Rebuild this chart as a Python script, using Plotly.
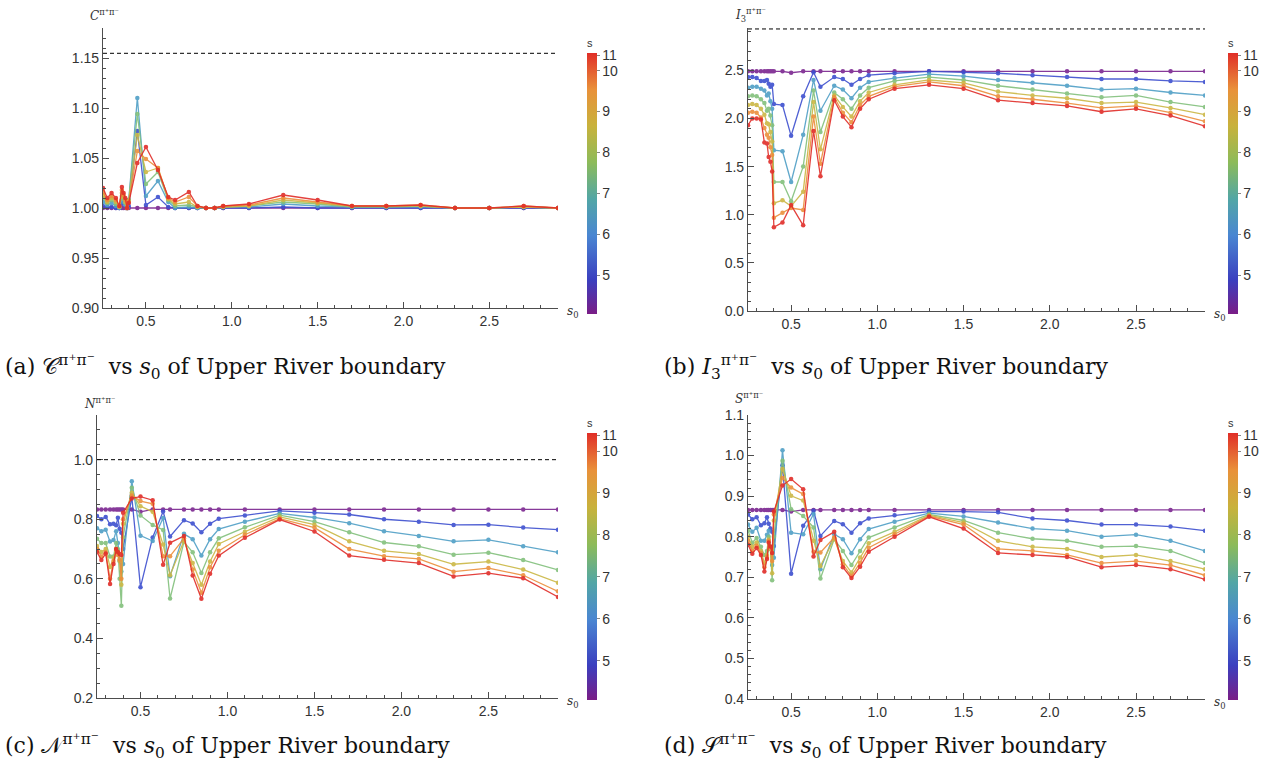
import plotly.graph_objects as go

# ---------------- data ----------------
S0 = [0.25, 0.275, 0.30, 0.325, 0.345, 0.36, 0.37, 0.38, 0.39, 0.40,
      0.45, 0.50, 0.57, 0.63, 0.67, 0.75, 0.80, 0.85, 0.90, 0.95,
      1.10, 1.30, 1.50, 1.70, 1.90, 2.10, 2.30, 2.50, 2.70, 2.90]

S_VALUES = [4.1, 5, 6.2, 7.6, 8.9, 9.9, 11]
SERIES_COLORS = ["#7b2590", "#3d4fcf", "#4f9fc6", "#82c07c", "#cbb845", "#ec8e3b", "#e12d29"]

C_VALS = {
    "purple": [1.0] * 30,
    "blue":   [1.002, 1.001, 1.001, 1.000, 1.000, 1.004, 1.005, 1.005, 1.000, 1.002, 1.077, 1.003, 1.011, 1.001, 1.000, 1.000, 1.000, 1.000, 1.000, 1.000, 1.000, 1.001, 1.000, 1.000, 1.000, 1.000, 1.000, 1.000, 1.000, 1.000],
    "cyan":   [1.006, 1.003, 1.005, 1.002, 1.000, 1.008, 1.006, 1.003, 1.000, 1.008, 1.110, 1.012, 1.027, 1.006, 1.000, 1.001, 1.000, 1.000, 1.000, 1.001, 1.001, 1.004, 1.002, 1.001, 1.001, 1.001, 1.000, 1.000, 1.001, 1.000],
    "green":  [1.010, 1.005, 1.008, 1.004, 1.001, 1.012, 1.009, 1.005, 1.000, 1.008, 1.094, 1.024, 1.036, 1.008, 1.002, 1.003, 1.001, 1.000, 1.000, 1.001, 1.002, 1.006, 1.004, 1.001, 1.001, 1.002, 1.000, 1.000, 1.001, 1.000],
    "yellow": [1.013, 1.006, 1.010, 1.006, 1.001, 1.015, 1.011, 1.006, 1.000, 1.007, 1.073, 1.036, 1.040, 1.009, 1.004, 1.006, 1.001, 1.000, 1.000, 1.001, 1.002, 1.008, 1.005, 1.002, 1.002, 1.002, 1.000, 1.000, 1.001, 1.000],
    "orange": [1.016, 1.008, 1.012, 1.008, 1.002, 1.018, 1.013, 1.008, 1.000, 1.006, 1.057, 1.049, 1.040, 1.010, 1.006, 1.011, 1.002, 1.000, 1.000, 1.002, 1.003, 1.010, 1.006, 1.002, 1.002, 1.003, 1.000, 1.000, 1.002, 1.000],
    "red":    [1.020, 1.010, 1.015, 1.010, 1.002, 1.021, 1.015, 1.010, 1.000, 1.005, 1.045, 1.061, 1.038, 1.011, 1.008, 1.016, 1.002, 1.000, 1.000, 1.002, 1.004, 1.013, 1.008, 1.002, 1.002, 1.003, 1.000, 1.000, 1.002, 1.000],
}

I3_VALS = {
    "purple": [2.49] * 11 + [2.475] + [2.49] * 18,
    "blue":   [2.43, 2.43, 2.42, 2.39, 2.39, 2.40, 2.36, 2.33, 2.35, 2.15, 2.14, 1.82, 2.23, 2.48, 2.33, 2.43, 2.41, 2.35, 2.41, 2.45, 2.47, 2.49, 2.48, 2.47, 2.45, 2.43, 2.41, 2.41, 2.39, 2.38],
    "cyan":   [2.32, 2.33, 2.33, 2.31, 2.29, 2.24, 2.26, 2.18, 2.10, 1.67, 1.66, 1.34, 1.83, 2.40, 2.08, 2.34, 2.30, 2.21, 2.32, 2.38, 2.42, 2.46, 2.44, 2.40, 2.37, 2.34, 2.30, 2.31, 2.27, 2.24],
    "green":  [2.23, 2.24, 2.23, 2.20, 2.16, 2.08, 2.10, 2.03, 1.93, 1.34, 1.34, 1.14, 1.50, 2.29, 1.86, 2.27, 2.20, 2.10, 2.24, 2.32, 2.39, 2.43, 2.40, 2.34, 2.30, 2.26, 2.22, 2.24, 2.17, 2.12],
    "yellow": [2.14, 2.15, 2.14, 2.10, 2.04, 1.95, 1.94, 1.86, 1.76, 1.12, 1.15, 1.09, 1.24, 2.17, 1.68, 2.24, 2.12, 2.02, 2.18, 2.27, 2.35, 2.40, 2.37, 2.28, 2.24, 2.21, 2.16, 2.17, 2.11, 2.04],
    "orange": [2.06, 2.07, 2.06, 2.01, 1.90, 1.83, 1.80, 1.70, 1.62, 0.97, 1.02, 1.07, 1.05, 2.02, 1.53, 2.22, 2.06, 1.96, 2.14, 2.23, 2.33, 2.38, 2.34, 2.23, 2.20, 2.16, 2.11, 2.13, 2.06, 1.97],
    "red":    [1.93, 2.00, 2.00, 1.99, 1.75, 1.74, 1.60, 1.55, 1.45, 0.87, 0.92, 1.10, 0.89, 1.87, 1.40, 2.19, 2.02, 1.91, 2.10, 2.20, 2.31, 2.35, 2.31, 2.19, 2.16, 2.13, 2.07, 2.10, 2.03, 1.92],
}

N_VALS = {
    "purple": [0.833] * 11 + [0.825] + [0.833] * 18,
    "blue":   [0.811, 0.800, 0.808, 0.783, 0.785, 0.780, 0.805, 0.768, 0.755, 0.700, 0.875, 0.572, 0.739, 0.826, 0.742, 0.797, 0.786, 0.756, 0.785, 0.802, 0.813, 0.828, 0.822, 0.816, 0.800, 0.792, 0.781, 0.782, 0.772, 0.765],
    "cyan":   [0.770, 0.760, 0.765, 0.725, 0.730, 0.760, 0.720, 0.660, 0.625, 0.650, 0.928, 0.745, 0.727, 0.804, 0.609, 0.751, 0.733, 0.678, 0.733, 0.767, 0.792, 0.820, 0.806, 0.787, 0.760, 0.744, 0.726, 0.731, 0.709, 0.689],
    "green":  [0.735, 0.720, 0.720, 0.675, 0.675, 0.720, 0.700, 0.600, 0.510, 0.740, 0.906, 0.813, 0.781, 0.764, 0.534, 0.724, 0.689, 0.620, 0.689, 0.736, 0.773, 0.814, 0.792, 0.756, 0.722, 0.709, 0.681, 0.688, 0.663, 0.630],
    "yellow": [0.710, 0.690, 0.700, 0.640, 0.670, 0.700, 0.690, 0.660, 0.580, 0.785, 0.889, 0.844, 0.825, 0.715, 0.612, 0.728, 0.653, 0.580, 0.658, 0.717, 0.758, 0.808, 0.782, 0.726, 0.694, 0.683, 0.649, 0.658, 0.631, 0.587],
    "orange": [0.700, 0.675, 0.690, 0.600, 0.660, 0.695, 0.680, 0.665, 0.600, 0.800, 0.880, 0.861, 0.852, 0.676, 0.676, 0.736, 0.631, 0.553, 0.639, 0.694, 0.748, 0.802, 0.772, 0.700, 0.676, 0.667, 0.624, 0.636, 0.612, 0.558],
    "red":    [0.690, 0.663, 0.685, 0.583, 0.650, 0.700, 0.690, 0.683, 0.680, 0.822, 0.870, 0.876, 0.864, 0.647, 0.721, 0.744, 0.611, 0.533, 0.617, 0.678, 0.738, 0.799, 0.759, 0.678, 0.664, 0.653, 0.608, 0.619, 0.602, 0.539],
}

S_VALS = {
    "purple": [0.866] * 11 + [0.862] + [0.866] * 18,
    "blue":   [0.855, 0.843, 0.848, 0.828, 0.833, 0.848, 0.832, 0.820, 0.812, 0.777, 0.976, 0.709, 0.827, 0.864, 0.802, 0.839, 0.831, 0.810, 0.833, 0.845, 0.853, 0.862, 0.862, 0.860, 0.845, 0.840, 0.830, 0.830, 0.825, 0.815],
    "cyan":   [0.830, 0.812, 0.822, 0.790, 0.790, 0.805, 0.815, 0.770, 0.730, 0.748, 1.013, 0.810, 0.806, 0.856, 0.720, 0.806, 0.794, 0.759, 0.794, 0.819, 0.837, 0.858, 0.850, 0.835, 0.820, 0.815, 0.800, 0.805, 0.790, 0.765],
    "green":  [0.815, 0.785, 0.797, 0.775, 0.755, 0.765, 0.800, 0.770, 0.693, 0.800, 0.987, 0.868, 0.851, 0.823, 0.697, 0.794, 0.765, 0.730, 0.765, 0.798, 0.823, 0.855, 0.840, 0.810, 0.795, 0.790, 0.775, 0.777, 0.765, 0.735],
    "yellow": [0.800, 0.775, 0.786, 0.765, 0.735, 0.755, 0.793, 0.770, 0.710, 0.840, 0.967, 0.901, 0.889, 0.790, 0.728, 0.796, 0.740, 0.712, 0.749, 0.784, 0.812, 0.853, 0.835, 0.790, 0.775, 0.770, 0.750, 0.755, 0.740, 0.720],
    "orange": [0.790, 0.765, 0.778, 0.760, 0.725, 0.750, 0.790, 0.775, 0.740, 0.855, 0.945, 0.921, 0.905, 0.763, 0.761, 0.798, 0.732, 0.703, 0.736, 0.773, 0.806, 0.851, 0.830, 0.770, 0.765, 0.755, 0.735, 0.740, 0.730, 0.705],
    "red":    [0.780, 0.758, 0.772, 0.755, 0.714, 0.745, 0.786, 0.776, 0.760, 0.862, 0.926, 0.942, 0.917, 0.751, 0.792, 0.812, 0.725, 0.698, 0.726, 0.763, 0.800, 0.849, 0.820, 0.760, 0.755, 0.750, 0.725, 0.730, 0.720, 0.695],
}

SERIES_KEYS = ["purple", "blue", "cyan", "green", "yellow", "orange", "red"]
COLORBAR_TICKS = [5, 6, 7, 8, 9, 10, 10.37]
COLORBAR_TEXT = ["5", "6", "7", "8", "9", "10", "11"]

# ---------------- figure ----------------
W, H = 1281, 777
fig = go.Figure()

RAINBOW = [[0.0, "#7a1d86"], [0.13, "#3b3fbf"], [0.30, "#4a86d2"], [0.44, "#52a6a6"],
           [0.58, "#8cbb5a"], [0.72, "#c8b23c"], [0.86, "#e9913a"], [1.0, "#e02e28"]]


def px_x(p):
    return p / W


def px_y(p):
    return 1 - p / H


panels = [
    ("a", C_VALS, (103, 558), (28, 308), (0.9, 1.18), 0.05, 0.01, 1.1547, "<i>C</i><sup>π⁺π⁻</sup>", 587, (36, 314), 13),
    ("b", I3_VALS, (748, 1205), (28, 311), (0.0, 2.94), 0.5, 0.1, 2.93, "<i>I</i><sub>3</sub><sup>π⁺π⁻</sup>", 1228, (36, 314), 13),
    ("c", N_VALS, (97, 558), (415, 698), (0.2, 1.15), 0.2, 0.05, 1.0, "<i>N</i><sup>π⁺π⁻</sup>", 587, (416, 700), 12),
    ("d", S_VALS, (748, 1205), (415, 699), (0.4, 1.1), 0.1, 0.02, None, "<i>S</i><sup>π⁺π⁻</sup>", 1228, (416, 700), 17),
]

axis_color = "#4d4d4d"
tick_font = dict(family="Liberation Sans, Arial, sans-serif", size=14, color="#333333")

for i, (name, data, xd, yd, yr, dt, mdt, dash_y, ylab, cbx, cby, lab_dy) in enumerate(panels):
    n = i + 1
    xa = "x" if n == 1 else f"x{n}"
    ya = "y" if n == 1 else f"y{n}"
    xkey = "xaxis" if n == 1 else f"xaxis{n}"
    ykey = "yaxis" if n == 1 else f"yaxis{n}"
    fig.layout[xkey] = dict(
        domain=[px_x(xd[0]), px_x(xd[1])], range=[0.25, 2.9], anchor=ya,
        showline=True, linecolor=axis_color, linewidth=1.2, ticks="inside", ticklen=6,
        tickcolor=axis_color, tick0=0, dtick=0.5, tickformat=".1f", showgrid=False,
        zeroline=False, tickfont=tick_font,
        minor=dict(ticks="inside", ticklen=3, dtick=0.1, tick0=0, tickcolor=axis_color, showgrid=False),
    )
    fig.layout[ykey] = dict(
        domain=[px_y(yd[1]), px_y(yd[0])], range=list(yr), anchor=xa,
        showline=True, linecolor=axis_color, linewidth=1.2, ticks="inside", ticklen=6,
        tickcolor=axis_color, tick0=0, dtick=dt, showgrid=False, zeroline=False,
        tickfont=tick_font, tickformat=".2f" if name == "a" else ".1f",
        minor=dict(ticks="inside", ticklen=3, dtick=mdt, tick0=0, tickcolor=axis_color, showgrid=False),
    )
    if dash_y is not None:
        fig.add_shape(type="line", xref=xa, yref=ya, x0=0.25, x1=2.9, y0=dash_y, y1=dash_y,
                      line=dict(color="black", width=1, dash="4px,3px"))
    for key, col in zip(SERIES_KEYS, SERIES_COLORS):
        fig.add_trace(go.Scatter(
            x=S0, y=data[key], mode="lines+markers", xaxis=xa, yaxis=ya,
            line=dict(color=col, width=1.3), marker=dict(color=col, size=4.5),
            opacity=0.9, showlegend=False, hoverinfo="skip"))
    fig.add_trace(go.Scatter(
        x=[None], y=[None], mode="markers", xaxis=xa, yaxis=ya, showlegend=False,
        marker=dict(color=[4.06], colorscale=RAINBOW, cmin=4.06, cmax=10.43, showscale=True,
                    colorbar=dict(
                        x=px_x(cbx), xanchor="left", xpad=0, ypad=0,
                        y=px_y((cby[0] + cby[1]) / 2), yanchor="middle",
                        lenmode="pixels", len=cby[1] - cby[0], thickness=10,
                        outlinewidth=0, ticks="outside", ticklen=3, tickcolor="#888",
                        tickvals=COLORBAR_TICKS, ticktext=COLORBAR_TEXT,
                        tickfont=dict(family="Liberation Sans, Arial, sans-serif", size=14, color="#333"),
                        title=dict(text="s", side="top",
                                   font=dict(family="Liberation Sans, Arial, sans-serif", size=11, color="#333")),
                    ))))
    fig.add_annotation(xref="paper", yref="paper", x=px_x(xd[0] - 15), y=px_y(yd[0] - lab_dy),
                       xanchor="left", yanchor="middle", showarrow=False, text=ylab,
                       font=dict(family="DejaVu Serif, serif", size=12, color="#333"))
    fig.add_annotation(xref="paper", yref="paper", x=px_x(xd[1] + 7), y=px_y(yd[1] + 4),
                       xanchor="left", yanchor="middle", showarrow=False, text="<i>s</i><sub>0</sub>",
                       font=dict(family="DejaVu Serif, serif", size=12, color="#333"))

captions = [
    (3, 367, "(a) 𝒞<sup>π⁺π⁻</sup>  vs <i>s</i><sub>0</sub> of Upper River boundary"),
    (662, 367, "(b) <i>I</i><sub>3</sub><sup>π⁺π⁻</sup>  vs <i>s</i><sub>0</sub> of Upper River boundary"),
    (3, 746, "(c) 𝒩<sup>π⁺π⁻</sup>  vs <i>s</i><sub>0</sub> of Upper River boundary"),
    (662, 746, "(d) 𝒮<sup>π⁺π⁻</sup>  vs <i>s</i><sub>0</sub> of Upper River boundary"),
]
for cx, cy, txt in captions:
    fig.add_annotation(xref="paper", yref="paper", x=px_x(cx), y=px_y(cy), xanchor="left",
                       yanchor="middle", showarrow=False, text=txt,
                       font=dict(family="DejaVu Serif, serif", size=22, color="#111"))

fig.update_layout(width=W, height=H, margin=dict(l=0, r=0, t=0, b=0, autoexpand=False),
                  paper_bgcolor="white", plot_bgcolor="white")
fig.write_html("out.html", config={"displayModeBar": False},
               post_script="document.body.style.margin='0px';document.body.style.overflow='hidden';")
